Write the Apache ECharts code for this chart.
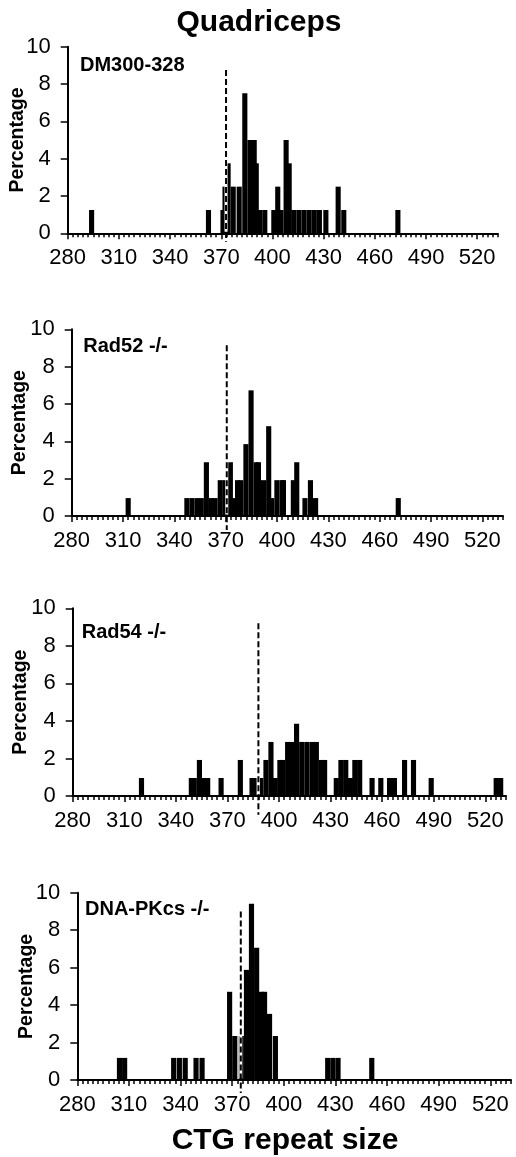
<!DOCTYPE html>
<html>
<head>
<meta charset="utf-8">
<script src="https://cdn.jsdelivr.net/npm/echarts@6/dist/echarts.min.js"></script>
<style>
  html, body { margin: 0; padding: 0; background: #fff; }
  #chart { width: 516px; height: 1157px; }
</style>
</head>
<body>
<div id="chart"></div>
<script>
// Axis settings (CTG repeat size on x, percentage of alleles on y)
const xMin = 280, xMax = 532, xLabelStep = 30, xTickStep = 3;
const yMin = 0, yMax = 10, yStep = 2;
const BIN = 3; // width of one histogram bar, in repeats

// Panel names
const panelNames = ['DM300-328', 'Rad52 -/-', 'Rad54 -/-', 'DNA-PKcs -/-'];

// Progenitor allele size (dashed marker) and its drawn height
const markerSize = [372.8, 370.6, 388, 375];
const markerTop  = [8.75, 9.15, 9.2, 9.0];

// DM300-328: bar left edge (repeats) and percentage
const dmStart = [292.5, 361, 369.5, 370.7, 372.5, 375.5, 379, 382.3, 385.3, 387.8, 389, 391, 394,
                 399.3, 401.6, 403.5, 406.5, 408.3, 411, 414, 417, 420, 423, 426, 429.8, 437, 440.3, 472];
const dmPct   = [1.25, 1.25, 1.25, 2.5, 3.75, 2.5, 2.5, 7.5, 5, 5, 3.75, 1.25, 1.25,
                 1.25, 2.5, 1.25, 5, 3.75, 1.25, 1.25, 1.25, 1.25, 1.25, 1.25, 1.25, 2.5, 1.25, 1.25];

// Rad52 -/-
const r52Start = [311.5, 345.8, 348.8, 351.8, 354.2, 357.2, 360.2, 362.3, 365.3, 368.2, 371.2, 373.5,
                  375.4, 377.3, 380.3, 383.3, 386.3, 387.6, 390.6, 393.6, 395.4, 398.4, 401.4, 402.2,
                  408, 410, 414.8, 418, 421, 469.3];
const r52Pct   = [0.96, 0.96, 0.96, 0.96, 0.96, 2.88, 0.96, 0.96, 1.92, 1.92, 2.88, 0.96,
                  1.92, 1.92, 3.85, 6.73, 2.88, 2.88, 1.92, 4.81, 0.96, 1.92, 1.92, 1.92,
                  1.92, 2.88, 0.96, 1.92, 0.96, 0.96];

// Rad54 -/-
const r54Start = [318.5, 347.5, 349.2, 352.2, 355, 357, 364.8, 376, 382.8, 384, 387.9, 390.9, 393.8,
                  396.3, 399, 400.5, 403.5, 405.7, 408.7, 411.7, 414.7, 417.7, 420.2, 423.2, 425,
                  431.8, 434.5, 437.3, 440, 442.6, 445.4, 452.6, 457.7, 462.8, 465.6, 471.5, 476.7,
                  487, 524.8, 527.4];
const r54Pct   = [0.96, 0.96, 0.96, 1.92, 0.96, 0.96, 0.96, 1.92, 0.96, 0.96, 0.96, 1.92, 2.88,
                  0.96, 1.92, 1.92, 2.88, 2.88, 3.85, 2.88, 2.88, 2.88, 2.88, 1.92, 1.92,
                  0.96, 1.92, 1.92, 0.96, 1.92, 1.92, 0.96, 0.96, 0.96, 0.96, 1.92, 1.92,
                  0.96, 0.96, 0.96];

// DNA-PKcs -/-
const dnaStart = [303, 306, 334.5, 337.8, 341.2, 347.5, 351, 367, 370, 373.8, 376.8, 379.7, 382.7,
                  385.3, 387.3, 390.2, 393.6, 424, 427, 430, 449.6];
const dnaPct   = [1.18, 1.18, 1.18, 1.18, 1.18, 1.18, 1.18, 4.71, 2.35, 2.35, 5.88, 9.41, 7.06,
                  4.71, 4.71, 3.53, 2.35, 1.18, 1.18, 1.18, 1.18];

const panelStarts = [dmStart, r52Start, r54Start, dnaStart];
const panelPcts   = [dmPct, r52Pct, r54Pct, dnaPct];

// Plot areas (pixels)
const gridBoxes = [
  { left: 67.7, top: 46.7,  width: 430,   height: 186.6 },
  { left: 71.7, top: 329.3, width: 431.3, height: 186.7 },
  { left: 72.7, top: 608.3, width: 433.3, height: 187.7 },
  { left: 77.3, top: 892.7, width: 433.7, height: 187.3 }
];
const labelPos = [
  { x: 80,   y: 65 },
  { x: 83.3, y: 346.3 },
  { x: 81.7, y: 632 },
  { x: 85,   y: 909.5 }
];
const nameGaps = [40, 42, 42, 41];
const markerBottom = [-0.45, -0.75, -1.0, -0.7];

const SANS = '"Liberation Sans", Arial, Helvetica, sans-serif';

function renderBar(params, api) {
  const left = api.value(0), pct = api.value(1);
  const a = api.coord([left, pct]);
  const b = api.coord([left + BIN, 0]);
  return {
    type: 'rect',
    shape: { x: a[0], y: a[1], width: b[0] - a[0], height: b[1] - a[1] },
    style: { fill: '#000' }
  };
}

const grid = [], xAxis = [], yAxis = [], series = [], graphic = [];

gridBoxes.forEach(function (g, i) {
  grid.push(Object.assign({ containLabel: false, outerBoundsMode: 'none' }, g));

  // fine ticks every 3 repeats, with the axis line
  xAxis.push({
    gridIndex: i, type: 'value', position: 'bottom',
    min: xMin, max: xMax, interval: xTickStep,
    axisLine: { show: true, onZero: false, lineStyle: { color: '#000', width: 2 } },
    axisTick: { show: true, length: 4, lineStyle: { color: '#000', width: 1.5 } },
    axisLabel: { show: false },
    splitLine: { show: false }
  });
  // labelled ticks every 30 repeats
  xAxis.push({
    gridIndex: i, type: 'value', position: 'bottom',
    min: xMin, max: xMax, interval: xLabelStep,
    axisLine: { show: false, onZero: false },
    axisTick: { show: true, length: 6, lineStyle: { color: '#000', width: 1.5 } },
    axisLabel: { show: true, margin: 14, color: '#000', fontSize: 22, fontFamily: SANS, showMaxLabel: false },
    splitLine: { show: false }
  });

  yAxis.push({
    gridIndex: i, type: 'value',
    min: yMin, max: yMax, interval: yStep,
    name: 'Percentage', nameLocation: 'middle', nameGap: nameGaps[i],
    nameMoveOverlap: false,
    nameTextStyle: { color: '#000', fontSize: 19.5, fontWeight: 'bold', fontFamily: SANS },
    axisLine: { show: true, lineStyle: { color: '#000', width: 2 } },
    axisTick: { show: true, length: 7, lineStyle: { color: '#000', width: 1.5 } },
    axisLabel: { margin: 17, color: '#000', fontSize: 22, fontFamily: SANS },
    splitLine: { show: false }
  });

  const data = panelStarts[i].map(function (s, k) { return [s, panelPcts[i][k]]; });
  series.push({
    type: 'custom', xAxisIndex: 2 * i, yAxisIndex: i,
    data: data, renderItem: renderBar,
    encode: { x: 0, y: 1 }, silent: true, z: 3
  });

  // white gap behind the dashed marker inside the bars
  series.push({
    type: 'line', xAxisIndex: 2 * i, yAxisIndex: i,
    data: [[markerSize[i], markerTop[i]], [markerSize[i], 0.08]],
    symbol: 'none', silent: true, clip: false, z: 4,
    lineStyle: { color: '#fff', width: 3 }
  });
  // dashed marker
  series.push({
    type: 'line', xAxisIndex: 2 * i, yAxisIndex: i,
    data: [[markerSize[i], markerTop[i]], [markerSize[i], markerBottom[i]]],
    symbol: 'none', silent: true, clip: false, z: 5,
    lineStyle: { color: '#000', width: 2, type: [6, 3] }
  });

  graphic.push({
    type: 'text', x: labelPos[i].x, y: labelPos[i].y,
    style: {
      text: panelNames[i], fill: '#000',
      font: 'bold 20px ' + SANS,
      textAlign: 'left', textVerticalAlign: 'middle'
    }
  });
});

graphic.push({
  type: 'text', x: 259, y: 22.5,
  style: { text: 'Quadriceps', fill: '#000', font: 'bold 30px ' + SANS,
           textAlign: 'center', textVerticalAlign: 'middle' }
});
graphic.push({
  type: 'text', x: 285, y: 1140.5,
  style: { text: 'CTG repeat size', fill: '#000', font: 'bold 30px ' + SANS,
           textAlign: 'center', textVerticalAlign: 'middle' }
});

const chart = echarts.init(document.getElementById('chart'), null, { renderer: 'canvas' });
chart.setOption({
  backgroundColor: '#fff',
  animation: false,
  grid: grid,
  xAxis: xAxis,
  yAxis: yAxis,
  series: series,
  graphic: graphic
});
</script>
</body>
</html>
